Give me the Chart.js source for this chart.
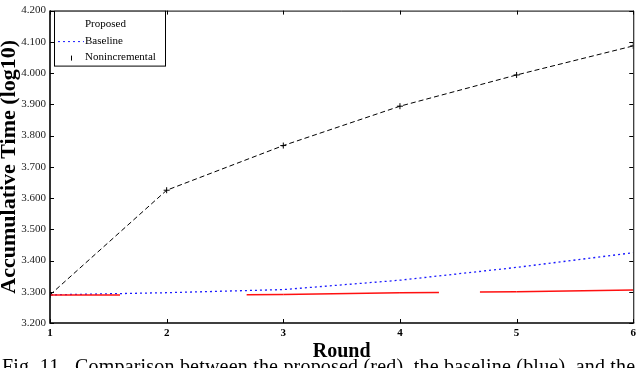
<!DOCTYPE html>
<html>
<head>
<meta charset="utf-8">
<script src="https://cdn.jsdelivr.net/npm/chart.js@4.4.1/dist/chart.umd.min.js"></script>
<style>
  html, body { margin: 0; padding: 0; background: #fff; overflow: hidden; }
  #wrap { position: relative; width: 640px; height: 368px; overflow: hidden; }
  #caption {
    position: absolute; left: 2px; top: 356px; white-space: nowrap;
    font: 20px "Liberation Serif", serif; line-height: 20px; color: #000;
    letter-spacing: 0.2px;
  }
</style>
</head>
<body>
<div id="wrap">
  <canvas id="chart" width="640" height="368"></canvas>
  <div id="caption">Fig. 11.&nbsp; Comparison between the proposed (red), the baseline (blue), and the</div>
</div>
<script>
// data
const rounds = [1, 2, 3, 4, 5, 6];
const proposed = [3.290, 3.290, 3.291, 3.297, 3.300, 3.306];
const baseline = [3.290, 3.297, 3.307, 3.337, 3.378, 3.425];
const nonincremental = [3.290, 3.625, 3.768, 3.894, 3.994, 4.087];
const yTicks = [3.2, 3.3, 3.4, 3.5, 3.6, 3.7, 3.8, 3.9, 4.0, 4.1, 4.2];

const serif = '"Liberation Serif", "Times New Roman", serif';

function toPoints(values) {
    return rounds.map((r, i) => ({ x: r, y: values[i] }));
}

// the red line in the figure has a couple of gaps
function redDash(ctx) {
    if (ctx.p0DataIndex === 0) return [70, 300];
    if (ctx.p0DataIndex === 1) return [38, 80];
    if (ctx.p0DataIndex === 3) return [39, 41];
    return [];
}
function redDashOffset(ctx) {
    return ctx.p0DataIndex === 1 ? 38 : 0;
}

// frame round the plot with inward ticks
const framePlugin = {
    id: 'frame',
    afterDatasetsDraw(chart) {
        const { ctx, chartArea: a, scales: { x, y } } = chart;
        ctx.save();
        ctx.strokeStyle = '#000';
        ctx.lineWidth = 1;
        ctx.beginPath();
        ctx.moveTo(a.left, a.top + 0.5);
        ctx.lineTo(a.right + 0.5, a.top + 0.5);
        ctx.lineTo(a.right + 0.5, a.bottom);
        ctx.stroke();
        rounds.forEach(r => {
            const px = Math.round(x.getPixelForValue(r)) + 0.5;
            ctx.beginPath();
            ctx.moveTo(px, a.bottom); ctx.lineTo(px, a.bottom - 4);
            ctx.moveTo(px, a.top); ctx.lineTo(px, a.top + 4);
            ctx.stroke();
        });
        yTicks.forEach(v => {
            const py = Math.round(y.getPixelForValue(v)) + 0.5;
            ctx.beginPath();
            ctx.moveTo(a.left, py); ctx.lineTo(a.left + 4, py);
            ctx.moveTo(a.right, py); ctx.lineTo(a.right - 4, py);
            ctx.stroke();
        });
        ctx.lineWidth = 1.6;
        ctx.beginPath();
        ctx.moveTo(a.left, a.top);
        ctx.lineTo(a.left, a.bottom);
        ctx.lineTo(a.right + 1, a.bottom);
        ctx.stroke();
        ctx.restore();
    }
};

// legend box in the top left corner of the plot
const legendPlugin = {
    id: 'boxLegend',
    afterDraw(chart) {
        const { ctx, chartArea: a } = chart;
        const left = a.left + 4, top = a.top, w = 111, h = 55;
        ctx.save();
        ctx.fillStyle = '#fff';
        ctx.fillRect(left, top, w, h);
        ctx.strokeStyle = '#000';
        ctx.lineWidth = 1;
        ctx.strokeRect(left + 0.5, top + 0.5, w, h);
        ctx.font = '11px ' + serif;
        ctx.textBaseline = 'middle';
        chart.data.datasets.forEach((ds, i) => {
            const cy = top + 14 + i * 16.5;
            ctx.fillStyle = '#000';
            ctx.fillText(ds.label, left + 31, cy);
            if (ds.label === 'Baseline') {
                ctx.strokeStyle = ds.borderColor;
                ctx.setLineDash(ds.borderDash);
                ctx.beginPath();
                ctx.moveTo(left + 4, cy + 0.5);
                ctx.lineTo(left + 30, cy + 0.5);
                ctx.stroke();
                ctx.setLineDash([]);
            } else if (ds.label === 'Nonincremental') {
                ctx.strokeStyle = '#000';
                ctx.beginPath();
                ctx.moveTo(left + 17.5, cy - 2); ctx.lineTo(left + 17.5, cy + 3);
                ctx.stroke();
            }
        });
        ctx.restore();
    }
};

new Chart(document.getElementById('chart'), {
    type: 'line',
    data: {
        datasets: [
            {
                label: 'Proposed',
                data: toPoints(proposed),
                borderColor: '#ff1010',
                borderWidth: 1.5,
                pointRadius: 0,
                segment: { borderDash: redDash, borderDashOffset: redDashOffset }
            },
            {
                label: 'Baseline',
                data: toPoints(baseline),
                borderColor: '#1a1aff',
                borderWidth: 1.3,
                borderDash: [2, 3],
                pointRadius: 0
            },
            {
                label: 'Nonincremental',
                data: toPoints(nonincremental),
                borderColor: '#000',
                borderWidth: 1,
                borderDash: [5, 3],
                pointStyle: 'cross',
                pointRadius: 3,
                pointBorderWidth: 1,
                pointBorderColor: '#000'
            }
        ]
    },
    options: {
        responsive: false,
        animation: false,
        layout: { padding: { top: 3, right: 4, left: 0, bottom: 0 } },
        plugins: {
            legend: { display: false },
            tooltip: { enabled: false }
        },
        scales: {
            x: {
                type: 'linear',
                min: 1,
                max: 6,
                afterFit: s => { s.height = 45; },
                afterBuildTicks: s => { s.ticks = rounds.map(v => ({ value: v })); },
                grid: { display: false, drawTicks: false },
                border: { display: false },
                ticks: {
                    padding: 4,
                    color: '#000',
                    font: { family: serif, size: 11, weight: 'bold' },
                    callback: v => String(v)
                },
                title: {
                    display: true,
                    text: 'Round',
                    color: '#000',
                    font: { family: serif, size: 20, weight: 'bold', lineHeight: 1 },
                    padding: { top: 0, bottom: 6 }
                }
            },
            y: {
                min: 3.2,
                max: 4.2,
                afterFit: s => { s.width = 50; },
                afterBuildTicks: s => { s.ticks = yTicks.map(v => ({ value: v })); },
                grid: { display: false, drawTicks: false },
                border: { display: false },
                ticks: {
                    padding: 4,
                    color: '#222',
                    font: { family: serif, size: 11 },
                    callback: v => Number(v).toFixed(3)
                },
                title: {
                    display: true,
                    text: 'Accumulative Time (log10)',
                    color: '#000',
                    font: { family: serif, size: 22, weight: 'bold', lineHeight: 1 },
                    padding: { top: -2, bottom: 0 }
                }
            }
        }
    },
    plugins: [framePlugin, legendPlugin]
});
</script>
</body>
</html>
